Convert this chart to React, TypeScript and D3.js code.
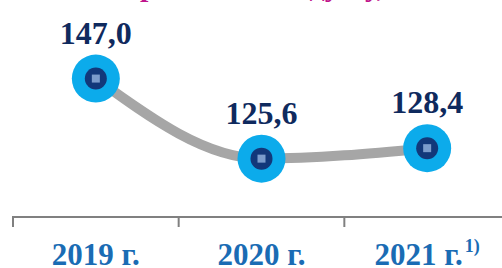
import React from "react";
import * as d3 from "d3";

const categories = ["2019 г.", "2020 г.", "2021 г."];
const values = [147.0, 125.6, 128.4];
const valueLabels = ["147,0", "125,6", "128,4"];
const footnotes = ["", "", "1)"];
const title = "потребление на душу, кг";

const W = 502;
const H = 268;

export default function App() {
  const x = d3.scaleBand<string>().domain(categories).range([13, 510]).padding(0);
  const y = d3.scaleLinear().domain([110, 168]).range([217, 0]);
  const pts: [number, number][] = categories.map((c, i) => [
    (x(c) as number) + x.bandwidth() / 2,
    y(values[i]),
  ]);
  const line = d3.line().curve(d3.curveMonotoneX)(pts) as string;

  return (
    <svg
      width={W}
      height={H}
      style={{ position: "absolute", left: 0, top: 0, background: "#fff" }}
    >
      <text
        x={258}
        y={-4}
        textAnchor="middle"
        fontFamily="Liberation Serif"
        fontWeight="bold"
        fontSize={30}
        fill="#c0168c"
      >
        {title}
      </text>
      <path d={line} fill="none" stroke="#a6a6a6" strokeWidth={10} strokeLinecap="round" />
      {pts.map(([px, py], i) => (
        <g key={i}>
          <circle cx={px} cy={py} r={24} fill="#0cabeb" />
          <circle cx={px} cy={py} r={11} fill="#12387a" />
          <rect x={px - 4} y={py - 4} width={8} height={8} fill="#8eaedb" opacity={0.85} />
          <text
            x={px}
            y={py - 35}
            textAnchor="middle"
            fontFamily="Liberation Serif"
            fontWeight="bold"
            fontSize={32}
            fill="#0f2a5e"
          >
            {valueLabels[i]}
          </text>
        </g>
      ))}
      <line x1={13} x2={W} y1={217} y2={217} stroke="#808080" strokeWidth={2} />
      {categories.map((c, i) => (
        <line
          key={"t" + i}
          x1={x(c) as number}
          x2={x(c) as number}
          y1={216}
          y2={227}
          stroke="#808080"
          strokeWidth={2}
        />
      ))}
      {categories.map((c, i) => (
        <text
          key={"l" + i}
          x={(x(c) as number) + x.bandwidth() / 2}
          y={265}
          textAnchor="middle"
          fontFamily="Liberation Serif"
          fontWeight="bold"
          fontSize={31}
          fill="#1a6cb4"
        >
          {c}
          {footnotes[i] ? (
            <tspan dx={2} dy={-13} fontSize={18}>
              {footnotes[i]}
            </tspan>
          ) : null}
        </text>
      ))}
    </svg>
  );
}
